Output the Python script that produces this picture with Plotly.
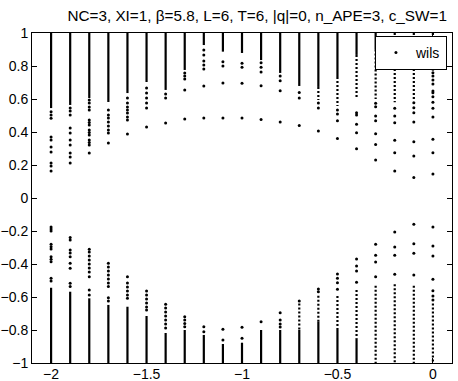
import plotly.graph_objects as go

# column positions (real part)
x_vals = [-2.0, -1.9, -1.8, -1.7, -1.6, -1.5, -1.4, -1.3, -1.2, -1.1, -1.0,
          -0.9, -0.8, -0.7, -0.6, -0.5, -0.4, -0.3, -0.2, -0.1, 0.0]

# upper half: densely filled part runs from y=1 down to top_solid
top_solid = [0.545, 0.564, 0.606, 0.582, 0.636, 0.703, 0.655, 0.776, 0.927, 0.887, 0.879,
             0.836, 0.758, 0.679, 0.673, 0.733, 0.867, 0.9, None, None, None]
top_dotted = [None] * 14 + [[0.673, 0.594], [0.733, 0.558], [0.867, 0.606], [0.9, 0.6],
                            [1.0, 0.58], [1.0, 0.6], [1.0, 0.85]]
top_points = [
    [0.523, 0.503, 0.483, 0.37, 0.352, 0.309, 0.279, 0.212, 0.194, 0.164],
    [0.545, 0.527, 0.503, 0.424, 0.394, 0.352, 0.321, 0.273, 0.248, 0.212],
    [0.594, 0.576, 0.552, 0.533, 0.473, 0.458, 0.442, 0.412, 0.397, 0.382, 0.352, 0.336, 0.321, 0.273],
    [0.533, 0.503, 0.485, 0.46, 0.436, 0.412, 0.394, 0.333],
    [0.606, 0.576, 0.552, 0.533, 0.515, 0.491, 0.473, 0.388],
    [0.667, 0.636, 0.606, 0.576, 0.545, 0.43],
    [0.63, 0.606, 0.455],
    [0.758, 0.739, 0.721, 0.655, 0.479],
    [0.897, 0.867, 0.83, 0.806, 0.782, 0.679, 0.485],
    [0.826, 0.8, 0.697, 0.485],
    [0.816, 0.792, 0.695, 0.485],
    [0.82, 0.792, 0.764, 0.681, 0.476],
    [0.739, 0.711, 0.65, 0.461],
    [0.639, 0.606, 0.44],
    [0.576, 0.545, 0.406],
    [0.533, 0.509, 0.468, 0.361],
    [0.517, 0.503, 0.447, 0.396, 0.299],
    [0.574, 0.553, 0.497, 0.468, 0.39, 0.325, 0.23],
    [0.544, 0.497, 0.456, 0.35, 0.275, 0.164],
    [0.578, 0.547, 0.517, 0.461, 0.341, 0.255, 0.125],
    [0.826, 0.806, 0.78, 0.759, 0.739, 0.715, 0.691, 0.648, 0.638, 0.614, 0.58, 0.544,
     0.491, 0.356, 0.275, 0.145],
]

# lower half: densely filled part runs from bot_solid down to y=-1
bot_solid = [-0.544, -0.568, -0.608, -0.648, -0.659, -0.715, -0.818, -0.8, -0.83, -0.885, -0.877,
             -0.8, -0.8, -0.8, -0.75, -0.8, -0.85, None, None, None, None]
bot_dotted = [None] * 13 + [[-0.64, -0.8], [-0.592, -0.75], [-0.594, -0.8], [-0.558, -0.85],
                            [-0.532, -1.0], [-0.523, -1.0], [-0.532, -1.0], [-0.64, -1.0]]
bot_points = [
    [-0.176, -0.188, -0.2, -0.281, -0.295, -0.309, -0.356, -0.371, -0.386, -0.487, -0.503],
    [-0.24, -0.255, -0.315, -0.333, -0.356, -0.396, -0.426, -0.517, -0.537],
    [-0.311, -0.327, -0.352, -0.376, -0.4, -0.424, -0.448, -0.477, -0.558, -0.588],
    [-0.396, -0.418, -0.442, -0.467, -0.491, -0.515, -0.537, -0.604, -0.624],
    [-0.477, -0.515, -0.539, -0.564, -0.588, -0.608],
    [-0.564, -0.588, -0.612, -0.636, -0.661, -0.679],
    [-0.644, -0.667, -0.691, -0.715, -0.739, -0.764, -0.788],
    [-0.719, -0.74, -0.76, -0.78],
    [-0.78, -0.81],
    [-0.796, -0.861],
    [-0.784, -0.85],
    [-0.75],
    [-0.695, -0.739, -0.764, -0.782],
    [-0.624],
    [-0.552, -0.568],
    [-0.461, -0.487, -0.513, -0.553],
    [-0.37, -0.412, -0.442, -0.511],
    [-0.281, -0.347, -0.388, -0.477],
    [-0.206, -0.297, -0.347, -0.462],
    [-0.159, -0.277, -0.335, -0.467],
    [-0.176, -0.291, -0.352, -0.493, -0.562, -0.594, -0.618],
]

y_top, y_bot = 1.0, -1.0

# build segment / point lists
solid_x, solid_y = [], []
dot_x, dot_y = [], []
pts_x, pts_y = [], []
for i, x in enumerate(x_vals):
    if top_solid[i] is not None:
        solid_x += [x, x, None]
        solid_y += [y_top, top_solid[i], None]
    if bot_solid[i] is not None:
        solid_x += [x, x, None]
        solid_y += [bot_solid[i], y_bot, None]
    for seg in (top_dotted[i], bot_dotted[i]):
        if seg is not None:
            dot_x += [x, x, None]
            dot_y += [seg[0], seg[1], None]
    for y in top_points[i] + bot_points[i]:
        pts_x.append(x)
        pts_y.append(y)

data = [
    go.Scatter(x=solid_x, y=solid_y, mode='lines', showlegend=False, hoverinfo='skip',
               line=dict(color='black', width=2.2)),
    go.Scatter(x=dot_x, y=dot_y, mode='lines', showlegend=False, hoverinfo='skip',
               line=dict(color='black', width=2.2, dash='2px,2px')),
    go.Scatter(x=pts_x, y=pts_y, mode='markers', name='wils',
               marker=dict(color='black', size=3, symbol='circle')),
]

axis_style = dict(showline=True, linecolor='black', linewidth=1, mirror='ticks',
                  ticks='inside', ticklen=5, tickcolor='black', showgrid=False,
                  zeroline=False, tickfont=dict(size=14, color='black'))

layout = go.Layout(
    template='none',
    width=458, height=381,
    margin=dict(l=32, r=6, t=33, b=18),
    paper_bgcolor='white', plot_bgcolor='white',
    font=dict(family='Liberation Sans, Arial, sans-serif', size=14, color='black'),
    title=dict(text='NC=3, XI=1, β=5.8, L=6, T=6, |q|=0, n_APE=3, c_SW=1',
               x=0.988, xref='paper', xanchor='right',
               y=0.96, yref='container', yanchor='middle',
               font=dict(size=15.3)),
    xaxis=dict(range=[-2.1, 0.1], tickvals=[-2, -1.5, -1, -0.5, 0],
               ticklabelstandoff=-2, **axis_style),
    yaxis=dict(range=[-1, 1], tickvals=[-1, -0.8, -0.6, -0.4, -0.2, 0, 0.2, 0.4, 0.6, 0.8, 1],
               **axis_style),
    legend=dict(x=0.988, y=0.991, xanchor='right', yanchor='top',
                bgcolor='white', bordercolor='black', borderwidth=1,
                font=dict(size=14), itemwidth=30, tracegroupgap=0),
    showlegend=True,
)

fig = go.Figure(data=data, layout=layout)
# drop the default page margin so the figure fills the window
fig.write_html("out.html", config={'displayModeBar': False},
               post_script="document.body.style.margin='0';")
